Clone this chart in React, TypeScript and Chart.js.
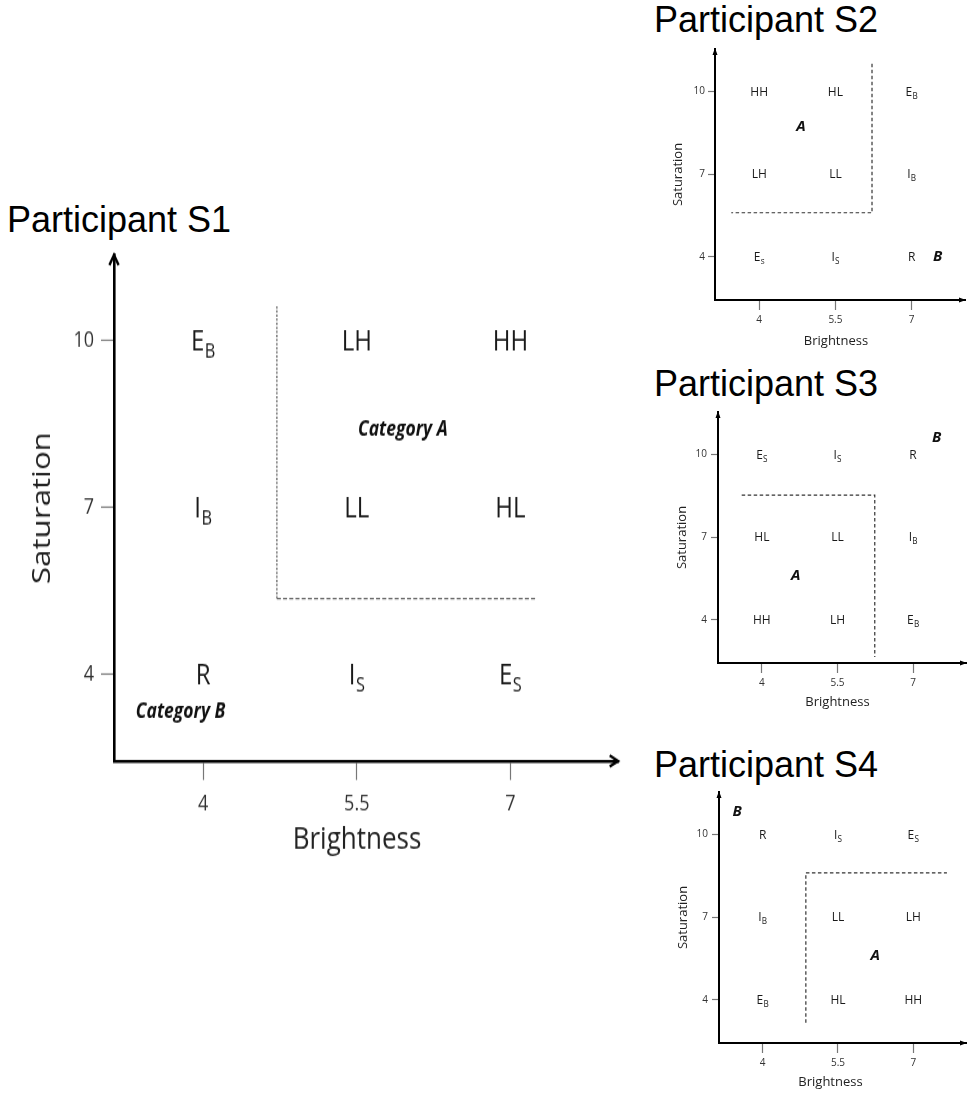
import React, { useEffect, useRef } from 'react';
import { Chart, registerables } from 'chart.js';

Chart.register(...registerables);

// ---------- data ----------
const BRIGHTNESS_TICKS = [4, 5.5, 7];
const SATURATION_TICKS = [10, 7, 4];
const X_AXIS_RANGE = [3.13, 8.05];
const Y_AXIS_RANGE = [2.44, 11.53];

// cell labels, row by row (saturation 10, 7, 4) × brightness (4, 5.5, 7)
const S1_CELLS = ['E_B', 'LH', 'HH', 'I_B', 'LL', 'HL', 'R', 'I_S', 'E_S'];
const S2_CELLS = ['HH', 'HL', 'E_B', 'LH', 'LL', 'I_B', 'E_s', 'I_S', 'R'];
const S3_CELLS = ['E_S', 'I_S', 'R', 'HL', 'LL', 'I_B', 'HH', 'LH', 'E_B'];
const S4_CELLS = ['R', 'I_S', 'E_S', 'I_B', 'LL', 'LH', 'E_B', 'HL', 'HH'];

// category boundary (dashed)
const S1_BOUNDARY_X = [4.72, 4.72, 7.26];
const S1_BOUNDARY_Y = [10.61, 5.36, 5.36];
const S2_BOUNDARY_X = [6.22, 6.22, 3.45];
const S2_BOUNDARY_Y = [11.0, 5.6, 5.6];
const S3_BOUNDARY_X = [3.6, 6.24, 6.24];
const S3_BOUNDARY_Y = [8.52, 8.52, 2.66];
const S4_BOUNDARY_X = [4.86, 4.86, 7.67];
const S4_BOUNDARY_Y = [3.17, 8.6, 8.6];

// category names
const S1_CAT_TEXT = ['Category A', 'Category B'];
const S1_CAT_X = [5.95, 3.78];
const S1_CAT_Y = [8.4, 3.32];
const S2_CAT_TEXT = ['A', 'B'];
const S2_CAT_X = [4.82, 7.51];
const S2_CAT_Y = [8.7, 4.0];
const S3_CAT_TEXT = ['B', 'A'];
const S3_CAT_X = [7.47, 4.67];
const S3_CAT_Y = [10.6, 5.6];
const S4_CAT_TEXT = ['B', 'A'];
const S4_CAT_X = [3.49, 6.24];
const S4_CAT_Y = [10.83, 5.59];

const TITLES = ['Participant S1', 'Participant S2', 'Participant S3', 'Participant S4'];
const X_TITLE = 'Brightness';
const Y_TITLE = 'Saturation';

// ---------- styles / layout ----------
const SANS = "'Open Sans', sans-serif";

type Style = {
  left: number; top: number; w: number; h: number; displayH: number;
  padTop: number; padRight: number; yWidth: number; xHeight: number;
  tickSize: number; yTickLen: number; xTickLen: number; yTickPad: number; xTickPad: number;
  titleSize: number; yTitlePad: number; xTitlePad: number; xTitleShift: number;
  axisWidth: number; cellSize: number; catSize: number;
  arrow: 'open' | 'filled'; arrowLen: number; arrowHalf: number; arrowWidth: number;
  vDash: number[]; hDash: number[]; dashColor: string; dashWidth: number;
  titleLeft: number; titleTop: number;
};

// S1 is drawn at 640×533 and shown stretched to 640×640, like the original figure
const S1_STYLE: Style = {
  left: 0, top: 240, w: 640, h: 533, displayH: 640,
  padTop: 12.5, padRight: 22, yWidth: 114, xHeight: 99.1,
  tickSize: 18, yTickLen: 13, xTickLen: 15.8, yTickPad: 7, xTickPad: 9.2,
  titleSize: 26, yTitlePad: 27.4, xTitlePad: 17.7, xTitleShift: -9,
  axisWidth: 2.6, cellSize: 24, catSize: 17.5,
  arrow: 'open', arrowLen: 8.3, arrowHalf: 4.6, arrowWidth: 2.4,
  vDash: [2, 1.4], hDash: [4, 2.2], dashColor: '#666', dashWidth: 1.3,
  titleLeft: 7, titleTop: 202,
};
const SMALL_BASE = {
  tickSize: 10, yTickLen: 7, xTickLen: 10, xTickPad: 4,
  titleSize: 13, axisWidth: 2, cellSize: 12, catSize: 15,
  arrow: 'filled' as const, arrowLen: 6, arrowHalf: 2.5, arrowWidth: 1,
  vDash: [3.5, 2.5], hDash: [3.5, 2.5], dashColor: '#333', dashWidth: 1.2,
  titleLeft: 654,
};
const S2_STYLE: Style = {
  ...SMALL_BASE, left: 650, top: 40, w: 319, h: 320, displayH: 320,
  padTop: 9, padRight: 4, yWidth: 65, xHeight: 60, yTickPad: 3,
  yTitlePad: 20.2, xTitlePad: 11.2, xTitleShift: -4, titleTop: 2,
};
const S3_STYLE: Style = {
  ...SMALL_BASE, left: 650, top: 400, w: 319, h: 320, displayH: 320,
  padTop: 12, padRight: 3, yWidth: 68, xHeight: 57, yTickPad: 4,
  yTitlePad: 24.2, xTitlePad: 10.2, xTitleShift: -4.5, titleTop: 366,
};
const S4_STYLE: Style = {
  ...SMALL_BASE, left: 650, top: 780, w: 319, h: 313, displayH: 313,
  padTop: 12, padRight: 3, yWidth: 69, xHeight: 50, yTickPad: 4,
  yTitlePad: 25.2, xTitlePad: 3.2, xTitleShift: -12, titleTop: 747,
};

type Panel = {
  cells: string[]; bx: number[]; by: number[];
  catText: string[]; catX: number[]; catY: number[];
};

const PANELS: Panel[] = [
  { cells: S1_CELLS, bx: S1_BOUNDARY_X, by: S1_BOUNDARY_Y, catText: S1_CAT_TEXT, catX: S1_CAT_X, catY: S1_CAT_Y },
  { cells: S2_CELLS, bx: S2_BOUNDARY_X, by: S2_BOUNDARY_Y, catText: S2_CAT_TEXT, catX: S2_CAT_X, catY: S2_CAT_Y },
  { cells: S3_CELLS, bx: S3_BOUNDARY_X, by: S3_BOUNDARY_Y, catText: S3_CAT_TEXT, catX: S3_CAT_X, catY: S3_CAT_Y },
  { cells: S4_CELLS, bx: S4_BOUNDARY_X, by: S4_BOUNDARY_Y, catText: S4_CAT_TEXT, catX: S4_CAT_X, catY: S4_CAT_Y },
];
const STYLES = [S1_STYLE, S2_STYLE, S3_STYLE, S4_STYLE];

// ---------- plugins ----------
function drawRichLabel(ctx: CanvasRenderingContext2D, text: string, x: number, y: number, size: number, color: string) {
  const [main, sub] = text.split('_');
  const subSize = size * 0.68;
  ctx.font = `${size}px ${SANS}`;
  const mw = ctx.measureText(main).width;
  let sw = 0;
  const gap = size * 0.02;
  if (sub) {
    ctx.font = `${subSize}px ${SANS}`;
    sw = ctx.measureText(sub).width;
  }
  const total = mw + (sub ? sw + gap : 0);
  const left = x - total / 2;
  const baseline = y + (size * 0.714) / 2;
  ctx.fillStyle = color;
  ctx.textAlign = 'left';
  ctx.textBaseline = 'alphabetic';
  ctx.font = `${size}px ${SANS}`;
  ctx.fillText(main, left, baseline);
  if (sub) {
    ctx.font = `${subSize}px ${SANS}`;
    ctx.fillText(sub, left + mw + gap, baseline + size * 0.26);
  }
}

const labelPlugin = {
  id: 'gridLabels',
  afterDatasetsDraw(chart: any) {
    const ctx = chart.ctx as CanvasRenderingContext2D;
    const o = chart.options.plugins.gridLabels;
    ctx.save();
    chart.data.datasets.forEach((ds: any, di: number) => {
      if (!ds.texts) return;
      const meta = chart.getDatasetMeta(di);
      meta.data.forEach((el: any, i: number) => {
        const t = ds.texts[i];
        if (ds.textKind === 'cell') {
          drawRichLabel(ctx, t, el.x, el.y, o.cellSize, '#1a1a1a');
        } else {
          ctx.font = `italic 700 ${o.catSize}px ${SANS}`;
          ctx.fillStyle = '#111';
          ctx.textAlign = 'center';
          ctx.textBaseline = 'middle';
          ctx.fillText(t, el.x, el.y);
        }
      });
    });
    // x-axis title (placed like the original, slightly left of centre)
    const a = chart.chartArea;
    const lh = o.titleSize * 1.2;
    ctx.font = `${o.titleSize}px ${SANS}`;
    ctx.fillStyle = '#222';
    ctx.textAlign = 'center';
    ctx.textBaseline = 'middle';
    ctx.fillText(o.xTitle, (a.left + a.right) / 2 + o.xTitleShift, chart.height - o.xTitlePad - lh / 2);
    ctx.restore();
  },
};

const arrowPlugin = {
  id: 'axisArrows',
  afterDraw(chart: any) {
    const ctx = chart.ctx as CanvasRenderingContext2D;
    const a = chart.chartArea;
    const o = chart.options.plugins.axisArrows;
    const L = o.len, H = o.half;
    ctx.save();
    ctx.strokeStyle = '#000';
    ctx.fillStyle = '#000';
    ctx.lineWidth = o.width;
    ctx.lineJoin = 'miter';
    ctx.lineCap = 'butt';
    if (o.style === 'open') {
      ctx.beginPath();
      ctx.moveTo(a.left - H, a.top + L);
      ctx.lineTo(a.left, a.top);
      ctx.lineTo(a.left + H, a.top + L);
      ctx.stroke();
      ctx.beginPath();
      ctx.moveTo(a.right - L, a.bottom - H);
      ctx.lineTo(a.right, a.bottom);
      ctx.lineTo(a.right - L, a.bottom + H);
      ctx.stroke();
    } else {
      ctx.beginPath();
      ctx.moveTo(a.left - H, a.top + L);
      ctx.lineTo(a.left, a.top - 1);
      ctx.lineTo(a.left + H, a.top + L);
      ctx.closePath();
      ctx.fill();
      ctx.beginPath();
      ctx.moveTo(a.right - L, a.bottom - H);
      ctx.lineTo(a.right + 1, a.bottom);
      ctx.lineTo(a.right - L, a.bottom + H);
      ctx.closePath();
      ctx.fill();
    }
    ctx.restore();
  },
};

function makeConfig(p: Panel, s: Style): any {
  const cellData = p.cells.map((_, i) => ({ x: BRIGHTNESS_TICKS[i % 3], y: SATURATION_TICKS[Math.floor(i / 3)] }));
  const boundary = p.bx.map((x, i) => ({ x, y: p.by[i] }));
  const cats = p.catText.map((_, i) => ({ x: p.catX[i], y: p.catY[i] }));
  const zeroPad = (sc: any) => {
    sc.paddingLeft = 0; sc.paddingRight = 0; sc.paddingTop = 0; sc.paddingBottom = 0;
  };
  return {
    type: 'scatter',
    data: {
      datasets: [
        { label: 'cells', data: cellData, texts: p.cells, textKind: 'cell', pointRadius: 0, pointHoverRadius: 0 },
        {
          label: 'boundary', data: boundary, showLine: true, clip: false,
          borderColor: s.dashColor, borderWidth: s.dashWidth, pointRadius: 0, fill: false,
          borderDash: s.hDash,
          segment: {
            borderDash: (c: any) => (Math.abs(c.p0.x - c.p1.x) < 0.5 ? s.vDash : s.hDash),
          },
        },
        { label: 'categories', data: cats, texts: p.catText, textKind: 'cat', pointRadius: 0, pointHoverRadius: 0 },
      ],
    },
    options: {
      responsive: false,
      animation: false,
      events: [],
      layout: { padding: { left: 0, top: s.padTop, right: s.padRight, bottom: 0 } },
      plugins: {
        legend: { display: false },
        tooltip: { enabled: false },
        title: { display: false },
        gridLabels: {
          cellSize: s.cellSize, catSize: s.catSize,
          xTitle: X_TITLE, titleSize: s.titleSize, xTitlePad: s.xTitlePad, xTitleShift: s.xTitleShift,
        },
        axisArrows: { style: s.arrow, len: s.arrowLen, half: s.arrowHalf, width: s.arrowWidth },
      },
      scales: {
        x: {
          type: 'linear', position: 'bottom',
          min: X_AXIS_RANGE[0], max: X_AXIS_RANGE[1],
          afterBuildTicks: (sc: any) => { sc.ticks = BRIGHTNESS_TICKS.map((v) => ({ value: v })); },
          afterFit: (sc: any) => { sc.height = s.xHeight; zeroPad(sc); },
          ticks: {
            callback: (v: any) => String(v), autoSkip: false, maxRotation: 0,
            font: { family: SANS, size: s.tickSize }, color: '#333', padding: s.xTickPad,
          },
          grid: {
            display: true, drawOnChartArea: false, drawTicks: true,
            tickLength: s.xTickLen, tickColor: '#777', tickWidth: 1.2, color: '#777',
          },
          border: { display: true, color: '#000', width: s.axisWidth },
          title: { display: false },
        },
        y: {
          type: 'linear', position: 'left',
          min: Y_AXIS_RANGE[0], max: Y_AXIS_RANGE[1],
          afterBuildTicks: (sc: any) => { sc.ticks = [...SATURATION_TICKS].reverse().map((v) => ({ value: v })); },
          afterFit: (sc: any) => { sc.width = s.yWidth; zeroPad(sc); },
          ticks: {
            callback: (v: any) => String(v), autoSkip: false,
            font: { family: SANS, size: s.tickSize }, color: '#333', padding: s.yTickPad,
          },
          grid: {
            display: true, drawOnChartArea: false, drawTicks: true,
            tickLength: s.yTickLen, tickColor: '#777', tickWidth: 1.2, color: '#777',
          },
          border: { display: true, color: '#000', width: s.axisWidth },
          title: {
            display: true, text: Y_TITLE, color: '#222',
            font: { family: SANS, size: s.titleSize }, padding: { top: s.yTitlePad, bottom: 0 },
          },
        },
      },
    },
    plugins: [labelPlugin, arrowPlugin],
  };
}

function PanelChart({ panel, style, title }: { panel: Panel; style: Style; title: string }) {
  const ref = useRef<HTMLCanvasElement | null>(null);
  useEffect(() => {
    if (!ref.current) return;
    const chart = new Chart(ref.current, makeConfig(panel, style));
    return () => chart.destroy();
  }, [panel, style]);
  return (
    <>
      <div
        style={{
          position: 'absolute', left: style.titleLeft, top: style.titleTop,
          fontFamily: "'Liberation Sans', Arial, sans-serif", fontSize: 36, lineHeight: '36px',
          color: '#000', whiteSpace: 'nowrap',
        }}
      >
        {title}
      </div>
      <canvas
        ref={ref}
        width={style.w}
        height={style.h}
        style={{ position: 'absolute', left: style.left, top: style.top, width: style.w, height: style.displayH }}
      />
    </>
  );
}

export default function App() {
  return (
    <div style={{ position: 'absolute', left: 0, top: 0, width: 969, height: 1093, overflow: 'hidden', background: '#fff' }}>
      {PANELS.map((p, i) => (
        <PanelChart key={i} panel={p} style={STYLES[i]} title={TITLES[i]} />
      ))}
    </div>
  );
}
